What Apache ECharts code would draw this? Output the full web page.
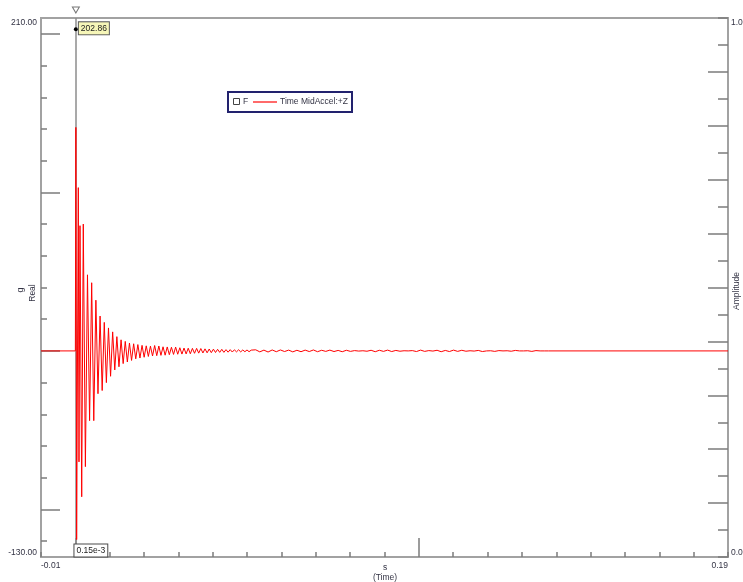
<!DOCTYPE html>
<html>
<head>
<meta charset="utf-8">
<script src="https://cdn.jsdelivr.net/npm/echarts@6/dist/echarts.min.js"></script>
<style>
html,body{margin:0;padding:0;background:#fff;}
#c{width:743px;height:582px;}
</style>
</head>
<body>
<div id="c"></div>
<script>
// ---- data ----
const xMin = -0.01, xMax = 0.19;
const yMin = -130, yMax = 210;
const ampMin = 0, ampMax = 1;

// impact: explicit samples
const headTimes  = [-0.01, 0.0, 0.00015, 0.00038, 0.00086, 0.00106, 0.00135, 0.00185, 0.00231];
const headValues = [0, 0, 141, -119, 103, -70, 79, -92, 80];

// ringing: alternating extrema sampled every half period after the last head sample
const ringStep = 0.000611;
const ringValues = [
  -73, 48, -44, 43, -44, 32, -27, 22, -25, 18,
  -20, 14.5, -16, 12, -12, 9, -10, 7, -8, 6,
  -7, 5, -6, 4.5, -5, 4, -4.5, 3.5, -4, 3.2,
  -3.5, 3, -3.2, 3.4, -3, 3.1, -2.8, 2.6, -2.7, 2.5,
  -2.4, 2.3, -2.2, 2.4, -2.1, 2, -2, 1.8, -1.9, 1.7,
  -1.8, 1.6, -1.5, 1.6, -1.4, 1.5, -1.3, 1.3, -1.2, 1.2,
  -1.1, 1.1, -1, 1, -0.9, 1, -0.9, 0.8, -0.8, 0.8,
  -0.7, 0.7, -0.6, 0.7, -0.6, 0.6, -0.5, 0.6, -0.5, 0.5
];

// residual noise
const tailStart = 0.0525, tailStep = 0.0012;
const tailValues = [
  0.7, -0.6, 0.5, -0.7, 0.6, -0.5, 0.6, -0.4, 0.5, -0.6,
  0.4, -0.5, 0.5, -0.4, 0.6, -0.5, 0.4, -0.3, 0.5, -0.4,
  0.3, -0.5, 0.4, -0.3, 0.2, -0.1, 0.1, -0.2, 0.4, -0.5,
  0.4, -0.3, 0.5, -0.4, 0.3, -0.2, 0.1, 0.0, 0.2, -0.4,
  0.5, -0.3, 0.2, -0.1, 0.4, -0.5, 0.3, -0.4, 0.5, -0.3,
  0.4, -0.2, 0.1, -0.1, 0.3, -0.4, 0.0, 0.1, -0.3, 0.2,
  0.0, 0.1, -0.2, 0.3, 0.0, 0.0, 0.1, -0.3, 0.2, 0.0,
  0.0, 0.0
];
const endTime = 0.19, endValue = 0;

// cursor
const cursorTime = 0.00015;
const cursorValue = 202.86;
const cursorValueLabel = '202.86';
const cursorTimeLabel = '0.15e-3';

// ticks
const xTickStep = 0.01;
const xMajorTicks = [0, 0.1];
const leftMinorTicks = [-120, -80, -60, -40, -20, 20, 40, 60, 80, 120, 140, 160, 180];
const leftMajorTicks = [-100, 0, 100, 200];
const rightTickStep = 0.05;
const rightMajorTicks = [0.1, 0.2, 0.3, 0.4, 0.5, 0.6, 0.7, 0.8, 0.9];

const seriesName = 'Time MidAccel:+Z';
const legendKey = 'F';

// ---- build series data ----
const data = [];
headTimes.forEach((t, i) => data.push([t, headValues[i]]));
const ringStart = headTimes[headTimes.length - 1];
ringValues.forEach((v, i) => data.push([ringStart + (i + 1) * ringStep, v]));
tailValues.forEach((v, i) => data.push([tailStart + i * tailStep, v]));
data.push([endTime, endValue]);

const FONT = 'Liberation Sans, Arial, sans-serif';
const TXT = '#333344';
const TICK = '#7c7c7c';
const near = (a, b) => Math.abs(a - b) < 1e-9;
const noLine = {show: false, onZero: false};

const chart = echarts.init(document.getElementById('c'), null, {renderer: 'canvas'});

const option = {
  animation: false,
  backgroundColor: '#fff',
  textStyle: {fontFamily: FONT},
  grid: {left: 41, right: 15, top: 18, bottom: 25, show: true, borderColor: '#a2a2a2', borderWidth: 2,
         backgroundColor: 'transparent', containLabel: false, outerBoundsMode: 'none'},
  xAxis: [
    {
      type: 'value', min: xMin, max: xMax, interval: xTickStep, position: 'bottom',
      axisLine: noLine, splitLine: {show: false},
      axisTick: {show: true, inside: true, length: 5, lineStyle: {color: TICK, width: 1.5}},
      axisLabel: {
        interval: 0, margin: 4, fontSize: 8.5, color: TXT, fontFamily: FONT,
        alignMinLabel: 'left', alignMaxLabel: 'right',
        formatter: v => (near(v, xMin) || near(v, xMax)) ? v.toFixed(2) : ''
      }
    },
    {
      type: 'value', min: xMin, max: xMax, position: 'bottom',
      axisLine: noLine, splitLine: {show: false}, axisLabel: {show: false},
      axisTick: {show: true, inside: true, length: 19, customValues: xMajorTicks, lineStyle: {color: TICK, width: 1.5}}
    }
  ],
  yAxis: [
    {
      type: 'value', min: yMin, max: yMax, interval: 10, position: 'left',
      axisLine: noLine, splitLine: {show: false}, axisTick: {show: false},
      axisLabel: {
        interval: 0, margin: 4, fontSize: 8.5, color: TXT, fontFamily: FONT,
        verticalAlignMinLabel: 'bottom', verticalAlignMaxLabel: 'top',
        formatter: v => (near(v, yMin) || near(v, yMax)) ? v.toFixed(2) : ''
      }
    },
    {
      type: 'value', min: yMin, max: yMax, position: 'left',
      axisLine: noLine, splitLine: {show: false}, axisLabel: {show: false},
      axisTick: {show: true, inside: true, length: 6, customValues: leftMinorTicks, lineStyle: {color: TICK, width: 1.5}}
    },
    {
      type: 'value', min: yMin, max: yMax, position: 'left',
      axisLine: noLine, splitLine: {show: false}, axisLabel: {show: false},
      axisTick: {show: true, inside: true, length: 19, customValues: leftMajorTicks, lineStyle: {color: TICK, width: 1.5}}
    },
    {
      type: 'value', min: ampMin, max: ampMax, interval: rightTickStep, position: 'right',
      axisLine: noLine, splitLine: {show: false},
      axisTick: {show: true, inside: true, length: 10, lineStyle: {color: TICK, width: 1.5}},
      axisLabel: {
        interval: 0, margin: 3, fontSize: 8.5, color: TXT, fontFamily: FONT,
        verticalAlignMinLabel: 'bottom', verticalAlignMaxLabel: 'top',
        formatter: v => (near(v, ampMin) || near(v, ampMax)) ? v.toFixed(2) : ''
      }
    },
    {
      type: 'value', min: ampMin, max: ampMax, position: 'right',
      axisLine: noLine, splitLine: {show: false}, axisLabel: {show: false},
      axisTick: {show: true, inside: true, length: 20, customValues: rightMajorTicks, lineStyle: {color: TICK, width: 1.5}}
    }
  ],
  series: [
    {
      name: seriesName, type: 'line', xAxisIndex: 0, yAxisIndex: 0,
      data: data, showSymbol: false, symbol: 'none', sampling: null, clip: false,
      lineStyle: {color: '#ff0000', width: 1},
      z: 3,
      markLine: {
        silent: true, symbol: ['none', 'none'], animation: false,
        lineStyle: {color: '#8c8c8c', width: 1.5, type: 'solid'},
        label: {show: false},
        data: [{xAxis: cursorTime}],
        z: 2
      },
      markPoint: {
        silent: true, animation: false,
        data: [
          {
            coord: [cursorTime, cursorValue], symbol: 'circle', symbolSize: 4,
            itemStyle: {color: '#000'},
            label: {
              show: true, position: 'right', distance: 1, offset: [0, -1],
              formatter: cursorValueLabel, fontSize: 8.5, fontFamily: FONT, color: '#222',
              backgroundColor: '#f6f6b8', borderColor: '#5a5a5a', borderWidth: 1, padding: [2, 2, 1, 2]
            }
          },
          {
            coord: [cursorTime, yMin], symbol: 'rect', symbolSize: 1,
            itemStyle: {color: 'rgba(0,0,0,0)'},
            label: {
              show: true, position: 'top', distance: 0, offset: [15, 0],
              formatter: cursorTimeLabel, fontSize: 8.5, fontFamily: FONT, color: '#222',
              backgroundColor: '#ffffff', borderColor: '#4a4a4a', borderWidth: 1, padding: [2, 2, 1, 2]
            }
          },
          {
            coord: [cursorTime, yMax], symbol: 'triangle', symbolRotate: 180, symbolSize: [7, 6], symbolOffset: [0, -8],
            itemStyle: {color: '#ffffff', borderColor: '#777', borderWidth: 1},
            label: {show: false}
          }
        ]
      }
    }
  ],
  graphic: [
    {type: 'text', x: 21, y: 290, rotation: Math.PI / 2, style: {text: 'g', fontSize: 9, fontFamily: FONT, fill: TXT, align: 'center', verticalAlign: 'middle'}},
    {type: 'text', x: 33, y: 293, rotation: Math.PI / 2, style: {text: 'Real', fontSize: 8.5, fontFamily: FONT, fill: TXT, align: 'center', verticalAlign: 'middle'}},
    {type: 'text', x: 737, y: 291, rotation: Math.PI / 2, style: {text: 'Amplitude', fontSize: 8.5, fontFamily: FONT, fill: TXT, align: 'center', verticalAlign: 'middle'}},
    {type: 'text', x: 385, y: 568, style: {text: 's', fontSize: 8.5, fontFamily: FONT, fill: TXT, align: 'center', verticalAlign: 'middle'}},
    {type: 'text', x: 385, y: 578, style: {text: '(Time)', fontSize: 8.5, fontFamily: FONT, fill: TXT, align: 'center', verticalAlign: 'middle'}},
    {
      type: 'group', x: 228, y: 92,
      children: [
        {type: 'rect', shape: {x: 0, y: 0, width: 124, height: 20}, style: {fill: '#fff', stroke: '#22226e', lineWidth: 2}},
        {type: 'rect', shape: {x: 5.5, y: 6.5, width: 6, height: 6}, style: {fill: '#fff', stroke: '#444', lineWidth: 1}},
        {type: 'text', x: 15, y: 10, style: {text: legendKey, fontSize: 8.5, fontFamily: FONT, fill: TXT, verticalAlign: 'middle'}},
        {type: 'line', shape: {x1: 25, y1: 10, x2: 49, y2: 10}, style: {stroke: '#ff6a6a', lineWidth: 2}},
        {type: 'text', x: 52, y: 10, style: {text: seriesName, fontSize: 8.5, fontFamily: FONT, fill: TXT, verticalAlign: 'middle'}}
      ]
    }
  ]
};
chart.setOption(option);
</script>
</body>
</html>
